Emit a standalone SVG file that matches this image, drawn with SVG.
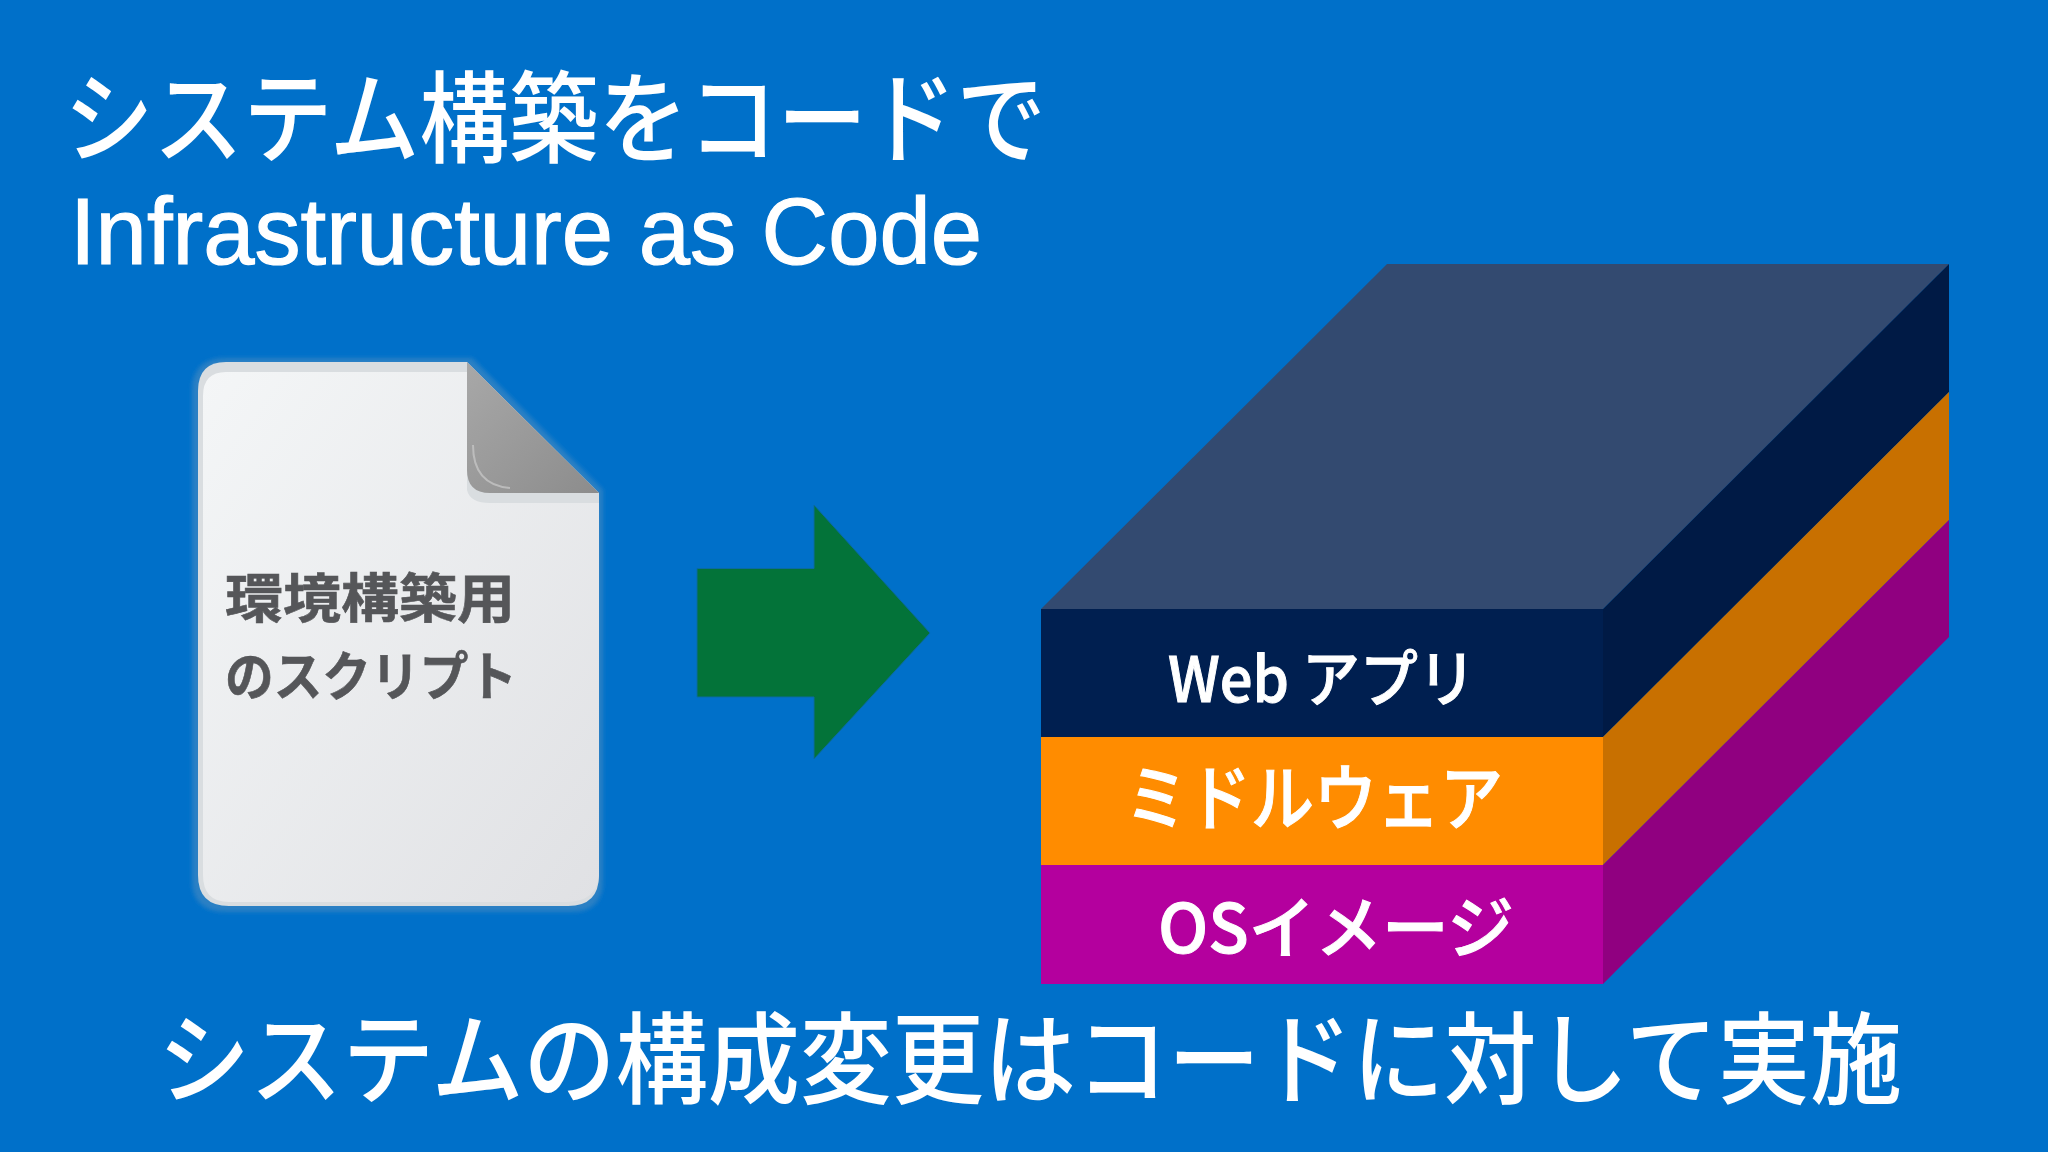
<svg xmlns="http://www.w3.org/2000/svg" width="2048" height="1152" viewBox="0 0 2048 1152">
<style>
text{font-family:"Noto Sans CJK JP","Noto Sans",sans-serif;fill:#fff}
.lat{font-family:"Liberation Sans","Noto Sans CJK JP",sans-serif;stroke:#fff;stroke-width:1.2}
.lbl{font-weight:500;stroke:#fff;stroke-width:1}
.doc{fill:#555659;stroke:#555659;stroke-width:.6}
</style>
<defs>
<linearGradient id="paper" x1="0" y1="0" x2="1" y2="1"><stop offset="0" stop-color="#f4f6f7"/><stop offset="1" stop-color="#e0e1e4"/></linearGradient>
<linearGradient id="fold" x1="0" y1="0" x2="1" y2="1"><stop offset="0" stop-color="#a8a8a8"/><stop offset="1" stop-color="#8c8c8c"/></linearGradient>
<filter id="soft" x="-10%" y="-10%" width="120%" height="120%"><feGaussianBlur stdDeviation="2"/></filter>
</defs>
<rect width="2048" height="1152" fill="#0070C9"/>
<g id="title">
<text x="64" y="155" font-size="100" font-weight="500" textLength="982" lengthAdjust="spacingAndGlyphs">システム構築をコードで</text>
<text class="lat" x="70" y="264" font-size="94" textLength="912" lengthAdjust="spacingAndGlyphs">Infrastructure as Code</text>
</g>
<g id="script-document">
<path d="M226 358H472L603 490V880Q603 912 572 912H226Q192 912 192 880V391Q192 358 226 358Z" fill="#2a80c4" filter="url(#soft)"/>
<path d="M226 362H467L599 493V875Q599 906 568 906H229Q198 906 198 875V391Q198 362 226 362Z" fill="#d9dde0"/>
<path d="M226 372H467V490Q470 503 490 503H599V875Q597 902 566 902H229Q203 902 203 875V396Q203 372 226 372Z" fill="url(#paper)"/>
<path d="M467 362L599 493H490Q467 493 467 470Z" fill="url(#fold)"/>
<path d="M473 445Q473 485 510 488" fill="none" stroke="#c4c4c4" stroke-width="2" opacity=".8"/>
<text class="doc" x="225" y="618" font-size="53" font-weight="700" textLength="290" lengthAdjust="spacingAndGlyphs">環境構築用</text>
<text class="doc" x="225" y="696" font-size="53" font-weight="700" textLength="292" lengthAdjust="spacingAndGlyphs">のスクリプト</text>
</g>
<g id="connectors">
<path id="arrow" d="M697 568.5H814V505L930 633L814 759V697H697Z" fill="#037339" stroke="#0a6aa0" stroke-width="1"/>
</g>
<g id="stack">
<g id="top-face"><path d="M1041 609L1387 264H1949L1603 609Z" fill="#334A70"/></g>
<g id="web-app">
<rect x="1041" y="609" width="562" height="128" fill="#001F50"/>
<path d="M1603 609L1949 264V392L1603 737Z" fill="#001A45"/>
<text class="lbl" x="1168" y="702" font-size="62" textLength="308" lengthAdjust="spacingAndGlyphs">Web アプリ</text>
</g>
<g id="middleware">
<rect x="1041" y="737" width="562" height="128" fill="#FF8C00"/>
<path d="M1603 737L1949 392V520L1603 865Z" fill="#C87000"/>
<text class="lbl" x="1125" y="824" font-size="72" textLength="378" lengthAdjust="spacingAndGlyphs">ミドルウェア</text>
</g>
<g id="os-image">
<rect x="1041" y="865" width="562" height="119" fill="#B4009E"/>
<path d="M1603 865L1949 520V637L1603 984Z" fill="#900080"/>
<text class="lbl" x="1158" y="953" font-size="68" textLength="356" lengthAdjust="spacingAndGlyphs">OSイメージ</text>
</g>
</g>
<g id="caption">
<text x="158" y="1096" font-size="100" font-weight="500" textLength="1744" lengthAdjust="spacingAndGlyphs">システムの構成変更はコードに対して実施</text>
</g>
</svg>
